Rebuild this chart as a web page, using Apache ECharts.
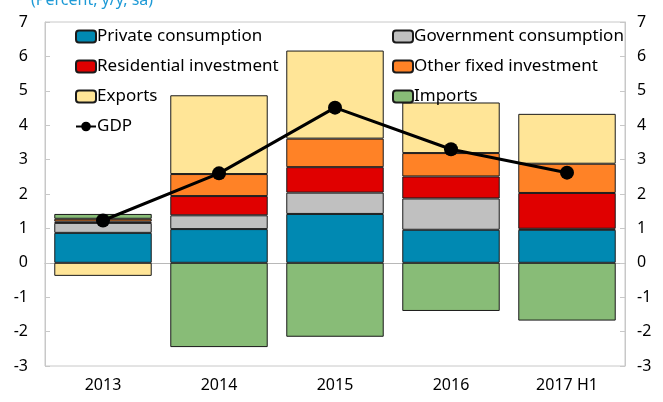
<!DOCTYPE html>
<html>
<head>
<meta charset="utf-8">
<script src="https://cdn.jsdelivr.net/npm/echarts@6/dist/echarts.min.js"></script>
<style>
  body { margin: 0; background: #fff; }
  #chartmain { width: 663px; height: 402px; }
</style>
</head>
<body>
<div id="chartmain"></div>
<script>
var categories = ['2013', '2014', '2015', '2016', '2017 H1'];
var privateCons = [0.87, 0.98, 1.42, 0.96, 0.96];
var govCons = [0.29, 0.40, 0.62, 0.91, 0.03];
var residential = [0.04, 0.56, 0.74, 0.64, 1.04];
var otherFixed = [0.08, 0.64, 0.83, 0.68, 0.85];
var exportsVal = [-0.38, 2.29, 2.56, 1.47, 1.45];
var importsVal = [0.14, -2.45, -2.15, -1.40, -1.68];
var gdp = [1.23, 2.6, 4.51, 3.3, 2.62];

var font = 'Noto Sans';

function barSeries(name, data, color) {
    return {
        name: name,
        type: 'bar',
        stack: 'total',
        barCategoryGap: '16%',
        itemStyle: {
            color: color,
            borderColor: '#1a1a1a',
            borderWidth: 1
        },
        data: data
    };
}

var option = {
    animation: false,
    textStyle: { fontFamily: font },
    title: {
        text: '(Percent, y/y, sa)',
        left: 26,
        top: -13,
        textStyle: { color: '#1e9ad6', fontSize: 16, fontWeight: 'normal', fontFamily: font }
    },
    legend: [{
        data: ['Private consumption', 'Residential investment', 'Exports', 'GDP'],
        orient: 'vertical',
        left: 70,
        top: 23,
        itemWidth: 20,
        itemHeight: 12,
        itemGap: 13,
        textStyle: { fontSize: 17, color: '#000', padding: [0, 0, 0, -4] }
    }, {
        data: ['Government consumption', 'Other fixed investment', 'Imports'],
        orient: 'vertical',
        left: 387,
        top: 23,
        itemWidth: 20,
        itemHeight: 12,
        itemGap: 13,
        textStyle: { fontSize: 17, color: '#000', padding: [0, 0, 0, -4] }
    }],
    grid: {
        left: 45,
        right: 38,
        top: 22,
        bottom: 36,
        show: true,
        borderColor: '#c8c8c8',
        borderWidth: 1
    },
    xAxis: [{
        type: 'category',
        data: categories,
        axisLine: { onZero: true, lineStyle: { color: '#b8b8b8', width: 1 } },
        axisTick: { inside: true, length: 5, lineStyle: { color: '#c8c8c8' } },
        axisLabel: { show: false }
    }, {
        type: 'category',
        data: categories,
        position: 'bottom',
        axisLine: { show: false },
        axisTick: { show: false },
        axisLabel: { fontSize: 16, color: '#000', margin: 11 }
    }],
    yAxis: [{
        type: 'value',
        min: -3,
        max: 7,
        interval: 1,
        position: 'left',
        splitLine: { show: false },
        axisLine: { show: true, lineStyle: { color: '#c8c8c8' } },
        axisTick: { show: true, inside: true, length: 5, lineStyle: { color: '#c8c8c8' } },
        axisLabel: { fontSize: 16, color: '#000', margin: 17 }
    }, {
        type: 'value',
        min: -3,
        max: 7,
        interval: 1,
        position: 'right',
        splitLine: { show: false },
        axisLine: { show: true, lineStyle: { color: '#c8c8c8' } },
        axisTick: { show: true, inside: true, length: 5, lineStyle: { color: '#c8c8c8' } },
        axisLabel: { fontSize: 16, color: '#000', margin: 12 }
    }],
    series: [
        barSeries('Private consumption', privateCons, '#0089b2'),
        barSeries('Government consumption', govCons, '#c0c0c0'),
        barSeries('Residential investment', residential, '#e00000'),
        barSeries('Other fixed investment', otherFixed, '#ff8226'),
        barSeries('Exports', exportsVal, '#ffe597'),
        barSeries('Imports', importsVal, '#88bc77'),
        {
            name: 'GDP',
            type: 'line',
            data: gdp,
            symbol: 'circle',
            symbolSize: 14,
            z: 5,
            itemStyle: { color: '#000' },
            lineStyle: { color: '#000', width: 3 }
        }
    ]
};

var myChart = echarts.init(document.getElementById('chartmain'));
myChart.setOption(option);
</script>
</body>
</html>
